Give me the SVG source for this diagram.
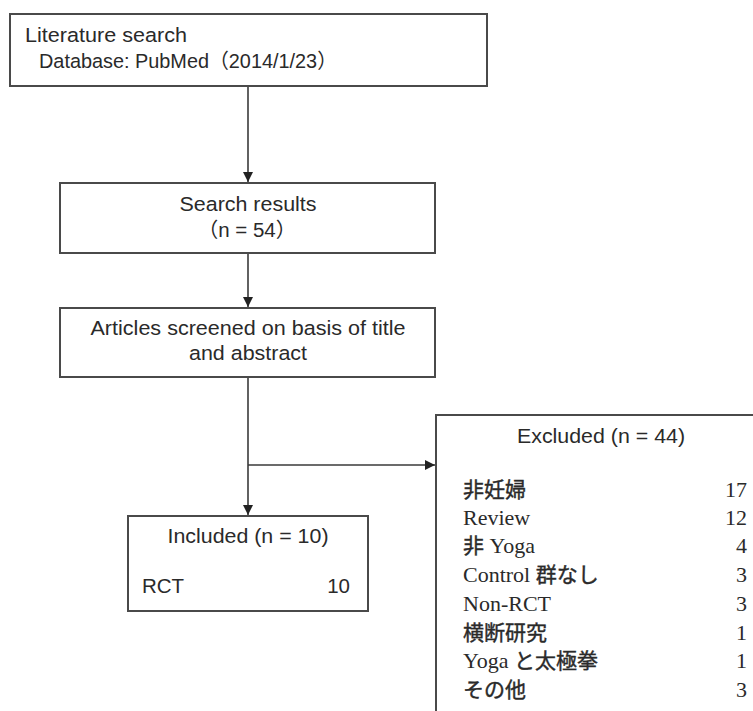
<svg xmlns="http://www.w3.org/2000/svg" width="753" height="711" viewBox="0 0 753 711">
<style>
.box{fill:#fff;stroke:#4a4a4a;stroke-width:2}
.ln{fill:none;stroke:#3a3a3a;stroke-width:1.6}
.s{font-family:"Liberation Sans",Arial,"Noto Sans CJK JP",sans-serif;font-size:20.5px;fill:#2a2a2a}
.m{text-anchor:middle}
.r{font-family:"Liberation Serif","Times New Roman","Noto Sans CJK JP",serif;font-size:22px;fill:#2a2a2a}
.j{font-family:"Noto Sans CJK JP",sans-serif;font-size:21px;font-weight:400;stroke:#2a2a2a;stroke-width:0.4}
.e{text-anchor:end}
</style>
<defs>
<marker id="ah" viewBox="0 0 10 10" refX="10" refY="5" markerWidth="10" markerHeight="10" markerUnits="userSpaceOnUse" orient="auto">
<path d="M0,0 L10,5 L0,10 Z" fill="#222"/>
</marker>
</defs>
<rect width="753" height="711" fill="#fff"/>
<g id="connectors">
<line class="ln" x1="248" y1="86" x2="248" y2="182" marker-end="url(#ah)"/>
<line class="ln" x1="248" y1="253" x2="248" y2="307" marker-end="url(#ah)"/>
<line class="ln" x1="248" y1="377" x2="248" y2="515" marker-end="url(#ah)"/>
<line class="ln" x1="248" y1="465" x2="435" y2="465" marker-end="url(#ah)"/>
</g>
<g id="literature">
<rect class="box" x="10" y="14" width="477" height="72"/>
<text class="s" x="25" y="42" textLength="162" lengthAdjust="spacingAndGlyphs">Literature search</text>
<text class="s" x="39" y="68" textLength="298" lengthAdjust="spacingAndGlyphs">Database: PubMed（2014/1/23）</text>
</g>
<g id="search">
<rect class="box" x="60" y="183" width="375" height="70"/>
<text class="s m" x="248" y="211" textLength="137" lengthAdjust="spacingAndGlyphs">Search results</text>
<text class="s m" x="247" y="237">（n = 54）</text>
</g>
<g id="screened">
<rect class="box" x="60" y="308" width="375" height="69"/>
<text class="s m" x="248" y="335" textLength="315" lengthAdjust="spacingAndGlyphs">Articles screened on basis of title</text>
<text class="s m" x="248" y="360" textLength="118" lengthAdjust="spacingAndGlyphs">and abstract</text>
</g>
<g id="included">
<rect class="box" x="128" y="516" width="240" height="95"/>
<text class="s m" x="248" y="543" textLength="161" lengthAdjust="spacingAndGlyphs">Included (n = 10)</text>
<text class="s" x="142" y="593">RCT</text>
<text class="s e" x="350" y="593">10</text>
</g>
<g id="excluded">
<rect class="box" x="436" y="415" width="330" height="310"/>
<text class="s m" x="601" y="443" textLength="168" lengthAdjust="spacingAndGlyphs">Excluded (n = 44)</text>
<text class="r" x="463" y="497"><tspan class="j">非妊婦</tspan></text>
<text class="r e" x="747" y="497">17</text>
<text class="r" x="463" y="525">Review</text>
<text class="r e" x="747" y="525">12</text>
<text class="r" x="463" y="553"><tspan class="j">非</tspan> Yoga</text>
<text class="r e" x="747" y="553">4</text>
<text class="r" x="463" y="582">Control <tspan class="j">群なし</tspan></text>
<text class="r e" x="747" y="582">3</text>
<text class="r" x="463" y="611">Non-RCT</text>
<text class="r e" x="747" y="611">3</text>
<text class="r" x="463" y="640"><tspan class="j">横断研究</tspan></text>
<text class="r e" x="747" y="640">1</text>
<text class="r" x="463" y="668">Yoga <tspan class="j">と太極拳</tspan></text>
<text class="r e" x="747" y="668">1</text>
<text class="r" x="463" y="697"><tspan class="j">その他</tspan></text>
<text class="r e" x="747" y="697">3</text>
</g>
</svg>
